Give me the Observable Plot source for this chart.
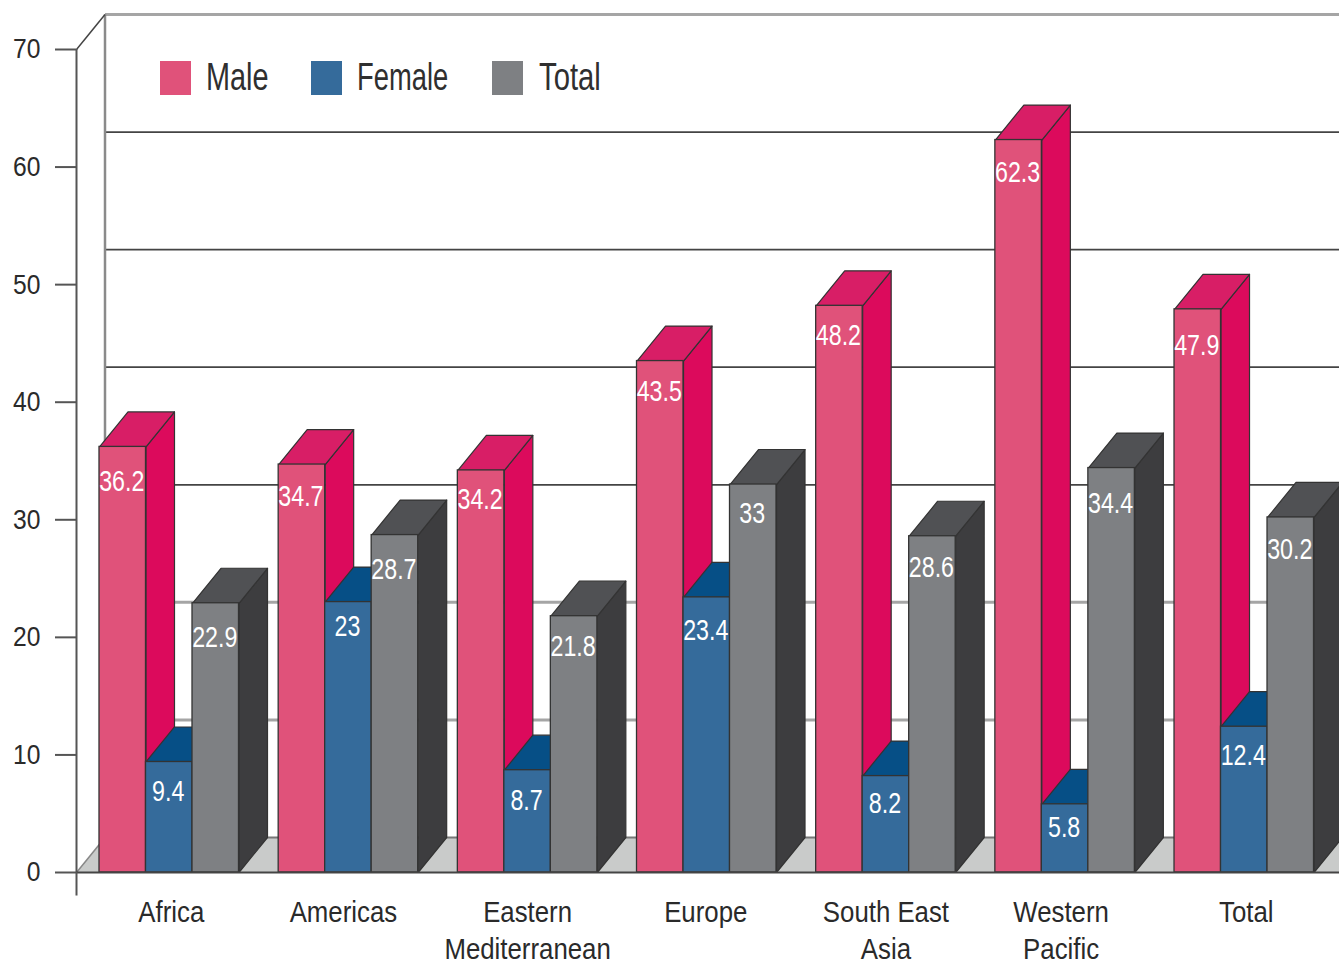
<!DOCTYPE html>
<html><head><meta charset="utf-8">
<script src="https://cdn.jsdelivr.net/npm/d3@7"></script>
<script src="https://cdn.jsdelivr.net/npm/@observablehq/plot@0.6"></script>
<style>
html,body{margin:0;padding:0;background:#fff;overflow:hidden}
#wrap{position:relative;width:1339px;height:968px}
.lg{position:absolute;font:38px "Liberation Sans",sans-serif;color:#2f2f2f;line-height:40px;transform-origin:0 50%;white-space:nowrap}
.sw{position:absolute;width:31px;height:34px;top:61px}
</style></head><body><div id="wrap"></div>
<script>
const regions = ["Africa","Americas","Eastern\nMediterranean","Europe","South East\nAsia","Western\nPacific","Total"];
const male   = [36.2,34.7,34.2,43.5,48.2,62.3,47.9];
const female = [9.4,23,8.7,23.4,8.2,5.8,12.4];
const total  = [22.9,28.7,21.8,33,28.6,34.4,30.2];
const seriesNames = ["Male","Female","Total"];
const fronts = ["#e0527a","#356b9b","#7e8083"];
const sides  = ["#dc0a5c","#0a4f86","#3d3d3f"];
const tops   = ["#d81e66","#064f86","#505154"];
const seriesValues = [male,female,total];
const yTicks = [0,10,20,30,40,50,60,70];

// layout only: label offsets in pixels, and geometry in data units
const labelDy = [
  [35,32,29,31,30,33,36],
  [30,25,31,33,28,23,29],
  [34,35,31,29,31,36,32]
];
const labelShift = [2,-5,0,-1,0,-4,2];
const pitch = 179.17, barW = 46.5/pitch, depthX = 28.5/pitch, depthY = 35/11.757;
const x0 = -23/pitch, xBack = x0 + depthX;
const xEnd = (1339-99)/pitch;

const faces = (values, s, kind) => values.flatMap((v,g) => {
  const a = g + s*barW, b = a + barW;
  const pts = kind === "side"
    ? [[b,0],[b+depthX,depthY],[b+depthX,v+depthY],[b,v]]
    : [[a,v],[b,v],[b+depthX,v+depthY],[a+depthX,v+depthY]];
  return pts.map(([x,y]) => ({x,y,id:g}));
});

const edge = "#333";
const barMarks = seriesValues.flatMap((vals,s) => {
  const bars = vals.map((v,g) => ({x1:g+s*barW, x2:g+(s+1)*barW, v}));
  return [
    Plot.line(faces(vals,s,"side"),{x:"x",y:"y",z:"id",fill:sides[s],stroke:edge,strokeWidth:1.2,curve:"linear-closed"}),
    Plot.line(faces(vals,s,"top"),{x:"x",y:"y",z:"id",fill:tops[s],stroke:edge,strokeWidth:1.2,curve:"linear-closed"}),
    Plot.rect(bars,{x1:"x1",x2:"x2",y1:0,y2:"v",fill:fronts[s],stroke:edge,strokeWidth:1.3})
  ];
});
const valueLabels = seriesValues.flatMap((vals,s) => vals.map((v,g) =>
  Plot.text([v],{x:()=>g+(s+0.5)*barW,y:d=>d,dx:-1,dy:labelDy[s][g],text:d=>String(d),fill:"#fff",fontSize:29,className:"vl"})));

const floor = [[x0,0],[xBack,depthY],[xEnd,depthY],[xEnd,0]].map(([x,y])=>({x,y}));
const darkGrid = [30,40,50,60], lightGrid = [10,20];

const chart = Plot.plot({
  width:1339,height:968,
  marginLeft:76,marginRight:0,marginTop:49,marginBottom:96,
  style:{fontFamily:'"Liberation Sans",sans-serif',background:"#fff",overflow:"hidden"},
  x:{domain:[x0,xEnd],axis:null},
  y:{domain:[0,70],axis:null},
  marks:[
    Plot.line(floor,{x:"x",y:"y",fill:"#c9cbca",stroke:"none",curve:"linear-closed"}),
    Plot.link(darkGrid,{x1:xBack,x2:xEnd,y1:v=>v+depthY,y2:v=>v+depthY,stroke:"#444",strokeWidth:1.7}),
    Plot.link(lightGrid,{x1:xBack,x2:xEnd,y1:v=>v+depthY,y2:v=>v+depthY,stroke:"#a5a5a5",strokeWidth:3}),
    Plot.link([0],{x1:xBack,x2:xEnd,y1:depthY,y2:depthY,stroke:"#777",strokeWidth:2}),
    Plot.link([70],{x1:xBack,x2:xEnd,y1:v=>v+depthY,y2:v=>v+depthY,stroke:"#a5a5a5",strokeWidth:3}),
    Plot.link([0],{x1:xBack,x2:xBack,y1:depthY,y2:70+depthY,stroke:"#8a8a8a",strokeWidth:2.5}),
    Plot.link([0],{x1:x0,x2:xBack,y1:0,y2:depthY,stroke:"#888",strokeWidth:1.5}),
    Plot.link([70],{x1:x0,x2:xBack,y1:70,y2:70+depthY,stroke:"#444",strokeWidth:1.5}),
    Plot.ruleX([x0],{y1:0,y2:70,stroke:"#555",strokeWidth:2}),
    ...barMarks,
    Plot.link([0],{x1:x0,x2:xEnd,y1:0,y2:0,stroke:"#444",strokeWidth:2}),
    Plot.axisY({ticks:yTicks,tickSize:21,tickPadding:15,fontSize:28,stroke:"#555",strokeWidth:2,color:"#2a2a2a",label:null,anchor:"left",className:"ya"}),
    Plot.axisX({ticks:regions.map((r,i)=>i+1.5*barW+labelShift[i]/pitch),
      tickFormat:(d,i)=>regions[i],tickSize:0,tickPadding:23,fontSize:30,lineHeight:1.24,color:"#2a2a2a",label:null,anchor:"bottom",className:"xa"}),
    Plot.ruleX([x0],{y1:0,y2:-2,stroke:"#555",strokeWidth:2}),
    ...valueLabels
  ]
});
const wrap = document.getElementById("wrap");
wrap.appendChild(chart);

// Condense the installed sans to the narrow face of the reference, keeping real text.
function condense(selector, factor){
  chart.querySelectorAll(selector).forEach(t => {
    const leaves = t.querySelectorAll("tspan");
    (leaves.length ? leaves : [t]).forEach(el => {
      const len = el.getComputedTextLength();
      el.setAttribute("textLength", (len*factor).toFixed(1));
      el.setAttribute("lengthAdjust","spacingAndGlyphs");
    });
  });
}
condense(".xa text",0.86);
condense(".ya text",0.88);
condense(".vl text",0.8);

const legendX = [[160,206,0.76],[311,357,0.72],[492,539,0.77]];
seriesNames.forEach((n,i)=>{
  const s=document.createElement("div");s.className="sw";s.style.left=legendX[i][0]+"px";s.style.background=fronts[i];wrap.appendChild(s);
  const t=document.createElement("div");t.className="lg";t.textContent=n;t.style.left=legendX[i][1]+"px";t.style.top="57px";t.style.transform=`scaleX(${legendX[i][2]})`;wrap.appendChild(t);
});
</script></body></html>
